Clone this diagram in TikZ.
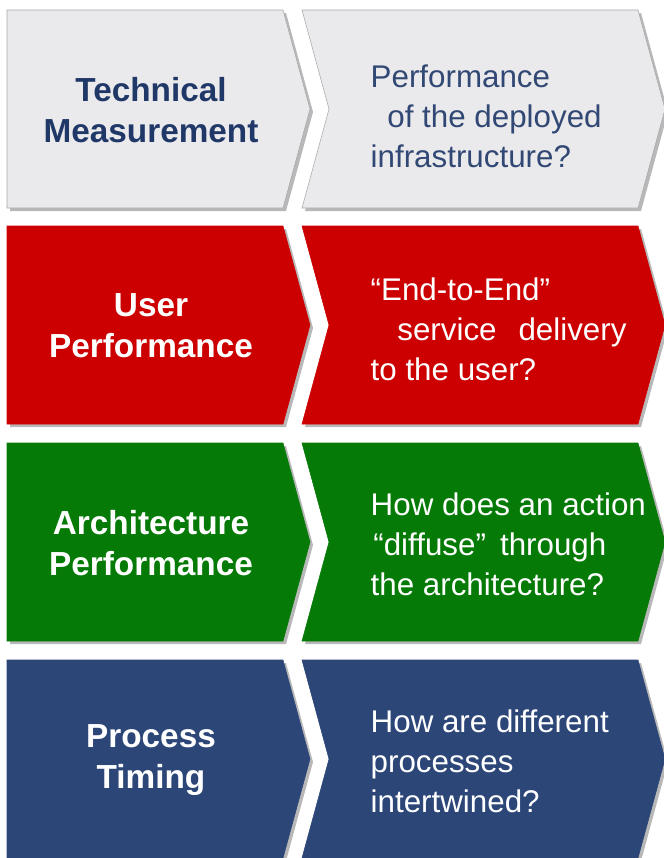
\documentclass[tikz,border=0pt]{standalone}
\usepackage{fontspec}
\setmainfont{Liberation Sans}
\usetikzlibrary{positioning}

\definecolor{panelgray}{RGB}{234,234,236}
\definecolor{panelred}{RGB}{204,0,0}
\definecolor{panelgreen}{RGB}{6,122,6}
\definecolor{panelblue}{RGB}{44,70,120}
\definecolor{navytext}{RGB}{32,56,104}
\definecolor{edgegray}{RGB}{168,168,170}

\begin{document}
\begin{tikzpicture}[
        x=0.75pt, y=-0.75pt,
        topic/.style={font=\bfseries\fontsize{25}{31}\selectfont, align=center, text=white},
        question/.style={font=\fontsize{23.5}{30}\selectfont, align=left, anchor=west, text=white},
        panelshadow/.style={fill=black!28, draw=none}
    ]
\useasboundingbox[fill=white] (0,0) rectangle (664,858);

%%
% Panels: arrow box on the left, chevron on the right
% one row for each kind of measurement
    \foreach \t/\c/\e in {10/panelgray/edgegray, 226/panelred/panelred, 443/panelgreen/panelgreen, 660/panelblue/panelblue} {
        \fill[panelshadow] (10,\t+3) -- (286,\t+3) -- (313,\t+102) -- (286,\t+201) -- (10,\t+201) -- cycle;
        \fill[panelshadow] (305,\t+3) -- (641,\t+3) -- (668,\t+102) -- (641,\t+201) -- (305,\t+201) -- (332,\t+102) -- cycle;
        \filldraw[fill=\c, draw=\e] (7,\t) -- (283,\t) -- (310,\t+99) -- (283,\t+198) -- (7,\t+198) -- cycle;
        \filldraw[fill=\c, draw=\e] (302,\t) -- (638,\t) -- (665,\t+99) -- (638,\t+198) -- (302,\t+198) -- (329,\t+99) -- cycle;
    }

%%
% Labels of the rows
    \node (tech) [topic, text=navytext] at (151,110) {Technical\\Measurement};
    \node (user) [topic] at (151,326) {User\\Performance};
    \node (arch) [topic] at (151,543) {Architecture\\Performance};
    \node (proc) [topic] at (151,760) {Process\\Timing};

%%
% Questions asked for each row
    \node (techq) [question, text=navytext!92!white] at (366,116) {Performance\\\hspace*{12.5pt}of the deployed\\infrastructure?};
    \node (userq) [question] at (366,329) {``End-to-End''\\\hspace*{20pt}service\hspace{0.7em}delivery\\to the user?};
    \node (archq) [question] at (366,544) {How does an action\\\hspace*{2pt}``diffuse''\hspace{0.45em}through\\the architecture?};
    \node (procq) [question] at (366,761) {How are different\\processes\\intertwined?};

\end{tikzpicture}
\end{document}
